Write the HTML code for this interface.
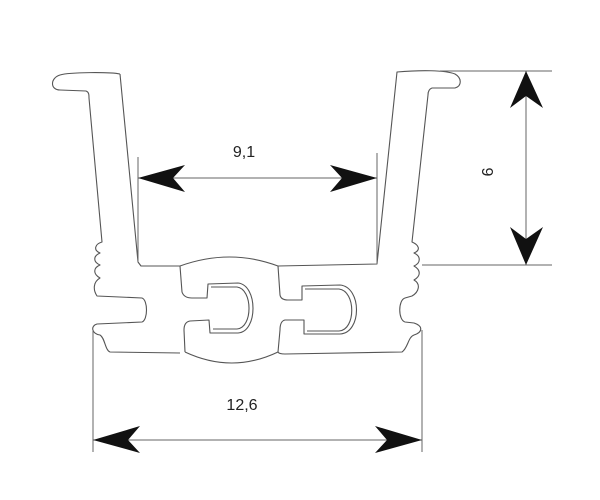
<!DOCTYPE html>
<html><head><style>html,body{margin:0;padding:0;background:#fff}svg{display:block}</style></head><body>
<svg width="600" height="500" viewBox="0 0 600 500" xmlns="http://www.w3.org/2000/svg">
<g fill="none" stroke="#555" stroke-width="1.1" stroke-linejoin="round">
<path d="M120,74 C110,72 70,72 60,75 C50,78 50,90 60,90 L86,91 C89,92 89,95 89,98 L102,242 C95,244 93,250 100,253 C93,256 93,262 100,265 C93,268 93,274 100,278 C93,282 93,290 97,296 L142,298 C148,300 148,320 142,322 L97,324 C90,326 92,334 100,335 C105,338 105,350 110,352 L180,353"/>
<path d="M120,74 L138,262 L141,266 L180,266"/>
<path d="M180,266 L182,292 Q184,298 192,298 L207,298 L208,284 L238,283 C258,285 258,332 238,333 L210,333 L209,320 L190,321 Q184,322 184,330 L185,352"/>
<path d="M211,287 L237,287 C253,289 253,328 237,329 L213,329"/>
<path d="M180,266 Q230,248 278,266"/>
<path d="M185,352 Q232,374 278,352"/>
<path d="M278,266 L280,295 Q281,300 288,300 L302,300 L302,286 L340,285 C362,287 362,333 340,334 L304,334 L304,320 L285,320 Q280,321 280,330 L278,352"/>
<path d="M305,289 L339,289 C356,291 356,330 339,331 L307,331"/>
<path d="M278,266 L377,264 L397,72 C420,70 445,70 455,74 C462,78 462,86 455,88 L432,88 C429,89 428,92 428,95 L412,242 C419,245 421,250 414,253 C421,256 421,263 414,266 C421,270 421,276 414,280 C421,284 419,292 412,296 L405,298 C398,300 398,320 405,322 L414,323 C423,326 423,332 414,335 C408,337 408,348 402,352 L285,354 Q279,354 278,352"/>
</g>
<g stroke="#666" stroke-width="1" fill="none">
<line x1="138" y1="157" x2="138" y2="262"/>
<line x1="377" y1="153" x2="377" y2="264"/>
<line x1="138" y1="178" x2="377" y2="178"/>
<line x1="93" y1="330" x2="93" y2="452"/>
<line x1="422" y1="330" x2="422" y2="452"/>
<line x1="93" y1="440" x2="422" y2="440"/>
<line x1="440" y1="71" x2="552" y2="71"/>
<line x1="422" y1="265" x2="552" y2="265"/>
<line x1="526" y1="71" x2="526" y2="265"/>
</g>
<g fill="#111">
<path d="M138,178 L185,165 L173,178 L185,192 Z"/>
<path d="M377,178 L330,165 L342,178 L330,192 Z"/>
<path d="M93,440 L140,426 L128,440 L140,453 Z"/>
<path d="M422,440 L375,426 L387,440 L375,453 Z"/>
<path d="M526,71 L510,108 L526,96 L543,108 Z"/>
<path d="M526,265 L510,227 L526,239 L543,227 Z"/>
</g>
<g font-family="Liberation Sans, sans-serif" font-size="16" fill="#222" text-anchor="middle">
<text x="244" y="157">9,1</text>
<text x="242" y="410">12,6</text>
<text x="0" y="0" transform="translate(482,172) rotate(90)">9</text>
</g>
</svg>
</body></html>
